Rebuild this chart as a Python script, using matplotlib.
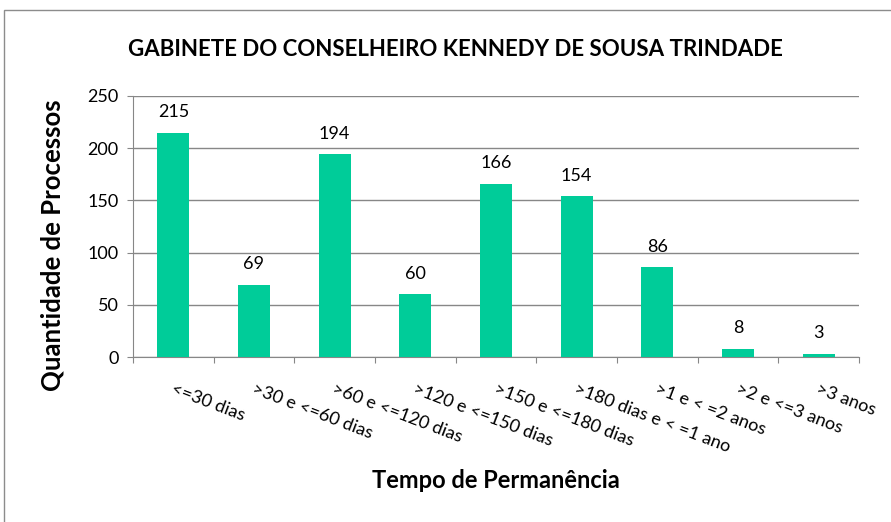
import matplotlib
matplotlib.use("Agg")
import matplotlib.pyplot as plt
from matplotlib.patches import Rectangle
import numpy as np

plt.rcParams["font.family"] = ["Lato", "DejaVu Sans"]

categories = [
    "<=30 dias",
    ">30 e <=60 dias",
    ">60 e <=120 dias",
    ">120 e <=150 dias",
    ">150 e <=180 dias",
    ">180 dias e < =1 ano",
    ">1 e < =2 anos",
    ">2 e <=3 anos",
    ">3 anos",
]
values = [215, 69, 194, 60, 166, 154, 86, 8, 3]

title = "GABINETE DO CONSELHEIRO KENNEDY DE SOUSA TRINDADE"
xlabel = "Tempo de Permanência"
ylabel = "Quantidade de Processos"

bar_color = "#00CC99"
grid_color = "#878787"

W, H = 891, 522
fig = plt.figure(figsize=(W / 100, H / 100), dpi=100)

# chart frame (cropped at right/bottom like the original)
fig.patches.append(Rectangle((4 / W, -0.05), 1.1, 1 - 10 / H + 0.05,
                             transform=fig.transFigure, fill=False,
                             edgecolor="#8c8c8c", linewidth=1.0))

ax = fig.add_axes([133 / W, 1 - 357 / H, (859 - 133) / W, (357 - 96) / H])

x = np.arange(len(categories))
ax.bar(x, values, width=0.4, color=bar_color, zorder=3)

for xi, v in zip(x, values):
    ax.annotate(str(v), (xi, v), xytext=(0, 9), textcoords="offset points",
                ha="center", va="bottom", fontsize=13, color="#000000")

ax.set_xlim(-0.5, len(categories) - 0.5)
ax.set_ylim(0, 250)
ax.set_yticks(range(0, 251, 50))
ax.tick_params(axis="y", labelsize=13, length=4.5, color=grid_color, pad=6)

# category boundaries as ticks
ax.set_xticks(np.arange(-0.5, len(categories)))
ax.set_xticklabels([])
ax.tick_params(axis="x", length=4.5, color=grid_color)

ax.yaxis.grid(True, color=grid_color, linewidth=1.0, zorder=0)
ax.set_axisbelow(True)
for side in ["top", "right"]:
    ax.spines[side].set_visible(False)
for side in ["left", "bottom"]:
    ax.spines[side].set_color(grid_color)

# rotated category labels starting at each category centre
for xi, lab in zip(x, categories):
    ax.annotate(lab, (xi, 0), xytext=(1, -17), textcoords="offset points",
                rotation=-21, rotation_mode="anchor", ha="left", va="top",
                fontsize=13)

fig.text(455 / W, 1 - 56 / H, title, ha="center", va="baseline",
         fontsize=16, fontweight="bold")
fig.text(496 / W, 1 - 488 / H, xlabel, ha="center", va="baseline",
         fontsize=17, fontweight="bold")
fig.text(53 / W, 1 - 245 / H, ylabel, ha="center", va="center",
         rotation=90, fontsize=18.5, fontweight="bold")

fig.savefig("out.png", dpi=100)
